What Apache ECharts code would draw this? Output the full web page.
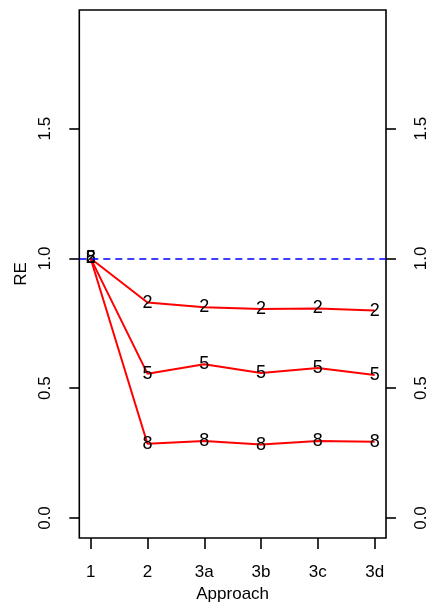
<!DOCTYPE html>
<html>
<head>
<meta charset="utf-8">
<script src="https://cdn.jsdelivr.net/npm/echarts@6/dist/echarts.min.js"></script>
<style>
html,body{margin:0;padding:0;background:#fff;}
#chart{width:434px;height:608px;}
</style>
</head>
<body>
<div id="chart"></div>
<script>
var categories = ['1', '2', '3a', '3b', '3c', '3d'];
var seriesNames = ['2', '5', '8'];
var re2 = [1.0, 0.830, 0.812, 0.805, 0.807, 0.799];
var re5 = [1.0, 0.556, 0.592, 0.559, 0.578, 0.551];
var re8 = [1.0, 0.286, 0.297, 0.283, 0.297, 0.294];
var yTicks = [0, 0.5, 1.0, 1.5];
var refValue = 1.0;

var FONT = '"Liberation Sans", Arial, Helvetica, sans-serif';
var FS = 17;
var xPos = categories.map(function (c, i) { return i + 1; });

function mk(name, vals, withRef) {
  var s = {
    type: 'line',
    name: name,
    data: vals.map(function (v, i) { return [xPos[i], v]; }),
    symbol: 'circle',
    symbolSize: 1,
    showSymbol: true,
    itemStyle: { color: 'rgba(0,0,0,0)' },
    lineStyle: { color: '#FF0000', width: 2 },
    label: {
      show: true,
      position: 'inside',
      formatter: name,
      color: '#000',
      fontFamily: FONT,
      fontSize: 18
    },
    animation: false,
    z: 3
  };
  if (withRef) {
    s.markLine = {
      silent: true,
      symbol: ['none', 'none'],
      label: { show: false },
      lineStyle: { color: '#0000FF', type: [7, 5], width: 1.6 },
      data: [{ yAxis: refValue }],
      animation: false
    };
  }
  return s;
}

var yAxisBase = function (pos, margin) {
  return {
    type: 'value',
    position: pos,
    min: -0.077,
    max: 1.957,
    splitLine: { show: false },
    axisLine: { show: false, onZero: false },
    axisTick: { show: true, customValues: yTicks, length: 10, lineStyle: { color: '#000', width: 1.6 } },
    axisLabel: {
      show: true,
      customValues: yTicks,
      rotate: 90,
      margin: margin,
      color: '#000',
      fontFamily: FONT,
      fontSize: FS,
      formatter: function (v) { return v.toFixed(1); }
    }
  };
};

var yLeft = yAxisBase('left', 25);
yLeft.name = 'RE';
yLeft.nameLocation = 'middle';
yLeft.nameRotate = 90;
yLeft.nameGap = 45;
yLeft.nameTextStyle = { color: '#000', fontFamily: FONT, fontSize: FS };
var yRight = yAxisBase('right', 27);

var chart = echarts.init(document.getElementById('chart'), null, { renderer: 'canvas' });
chart.setOption({
  animation: false,
  backgroundColor: '#fff',
  grid: {
    left: 79.3, right: 48, top: 10, bottom: 69,
    show: true, borderColor: '#000', borderWidth: 1.6, backgroundColor: 'transparent'
  },
  xAxis: {
    type: 'value',
    min: 0.8,
    max: 6.2,
    splitLine: { show: false },
    axisLine: { show: false, onZero: false },
    axisTick: { show: true, customValues: xPos, length: 11, lineStyle: { color: '#000', width: 1.6 } },
    axisLabel: {
      show: true,
      customValues: xPos,
      margin: 26,
      color: '#000',
      fontFamily: FONT,
      fontSize: FS,
      formatter: function (v) { return categories[Math.round(v) - 1]; }
    },
    name: 'Approach',
    nameLocation: 'middle',
    nameGap: 48,
    nameTextStyle: { color: '#000', fontFamily: FONT, fontSize: FS, verticalAlign: 'top' }
  },
  yAxis: [yLeft, yRight],
  series: [mk(seriesNames[0], re2, true), mk(seriesNames[1], re5, false), mk(seriesNames[2], re8, false)]
});
</script>
</body>
</html>
